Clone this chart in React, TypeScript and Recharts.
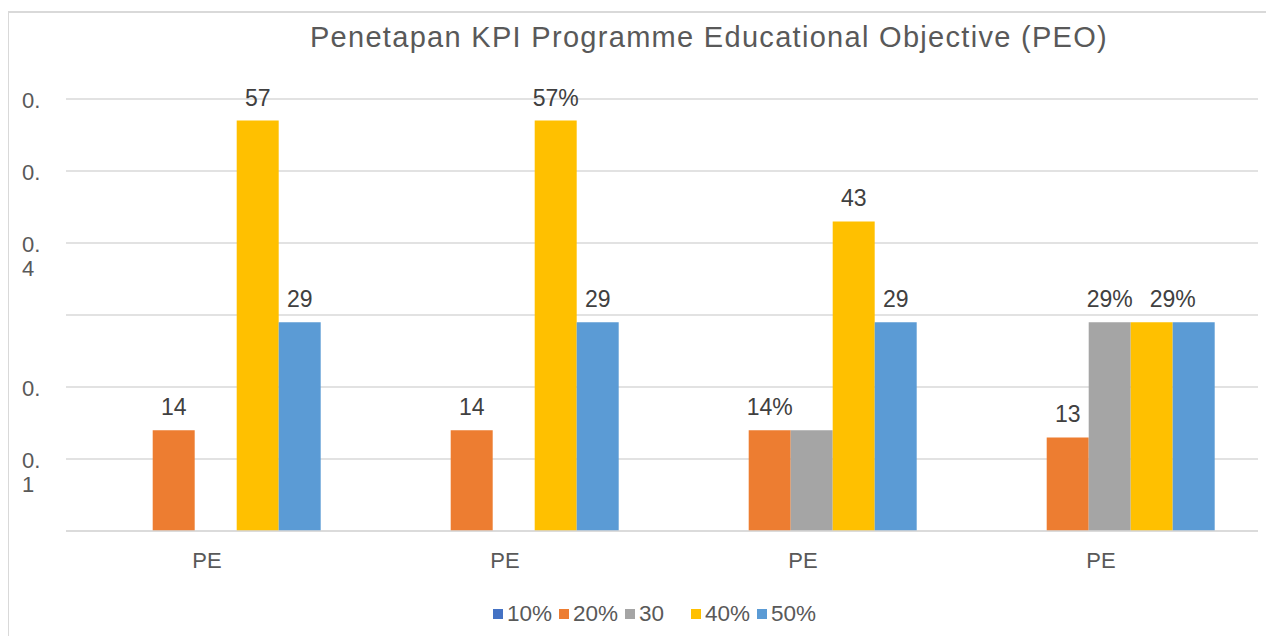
import { BarChart, Bar, XAxis, YAxis, CartesianGrid, Legend, LabelList } from "recharts"

const categories = ["PE", "PE", "PE", "PE"]
const s10 = [0, 0, 0, 0]
const s20 = [0.14, 0.14, 0.14, 0.13]
const s30 = [0, 0, 0.14, 0.29]
const s40 = [0.57, 0.57, 0.43, 0.29]
const s50 = [0.29, 0.29, 0.29, 0.29]

// data labels as they show in the picture (some are cut short)
const l10 = ["", "", "", ""]
const l20 = ["14", "14", "14%", "13"]
const l30 = ["", "", "", "29%"]
const l40 = ["57", "57%", "43", "29%"]
const l50 = ["29", "29", "29", ""]

const seriesNames = ["10%", "20%", "30", "40%", "50%"]
const seriesColors = ["#4472C4", "#ED7D31", "#A5A5A5", "#FFC000", "#5B9BD5"]

const yTicks = [0, 0.1, 0.2, 0.3, 0.4, 0.5, 0.6]
const yTickLabels = ["", "0.\n1", "0.", "", "0.\n4", "0.", "0."]

const data = categories.map((name, i) => ({
  name,
  v10: s10[i],
  v20: s20[i],
  v30: s30[i],
  v40: s40[i],
  v50: s50[i],
  l10: l10[i],
  l20: l20[i],
  l30: l30[i],
  l40: l40[i],
  l50: l50[i],
}))

const FONT = "'Liberation Sans', Arial, sans-serif"

// the two crowded labels in the last group are pushed apart a bit
const labelShift: Record<string, number> = { "l30-3": 7, "l40-3": 21 }

const makeLabel = (key: string) => (props: any) => {
  const { x, y, width, value, index } = props
  if (!value) return null
  const dx = labelShift[`${key}-${index}`] ?? 0
  return (
    <text x={x + width / 2 + dx} y={y - 15} textAnchor="middle" fontSize={23} fill="#404040" fontFamily={FONT}>
      {value}
    </text>
  )
}

const YTick = (props: any) => {
  const { y, index } = props
  const label = yTickLabels[index] ?? ""
  if (!label) return null
  const lines = label.split("\n")
  return (
    <text x={props.x - 36} y={y + 9} textAnchor="start" fontSize={22} fill="#595959" fontFamily={FONT}>
      {lines.map((ln: string, k: number) => (
        <tspan key={k} x={props.x - 36} dy={k === 0 ? 0 : 23.5}>
          {ln}
        </tspan>
      ))}
    </text>
  )
}

const XTick = (props: any) => {
  const { x, y, payload } = props
  return (
    <text x={x - 8} y={y + 29} textAnchor="middle" fontSize={22} fill="#595959" fontFamily={FONT}>
      {payload.value}
    </text>
  )
}

const LegendContent = (props: any) => {
  const { payload } = props
  return (
    <div style={{ position: "relative", height: 40 }}>
      <div style={{ position: "absolute", left: 493, top: 14, display: "flex" }}>
        {payload.map((entry: any) => (
          <div key={entry.value} style={{ width: 66, display: "flex", alignItems: "center", whiteSpace: "nowrap" }}>
            <span style={{ width: 10, height: 10, background: entry.color, display: "inline-block", marginRight: 4 }} />
            <span style={{ fontSize: 22.5, lineHeight: "24px", color: "#595959", fontFamily: FONT }}>{entry.value}</span>
          </div>
        ))}
      </div>
    </div>
  )
}

export default function App() {
  const keys = ["v10", "v20", "v30", "v40", "v50"]
  const labelKeys = ["l10", "l20", "l30", "l40", "l50"]
  return (
    <div
      style={{
        position: "relative",
        width: 1274,
        height: 644,
        margin: -8,
        overflow: "hidden",
        background: "#fff",
        fontFamily: FONT,
      }}
    >
      <div
        style={{
          position: "absolute",
          left: 709,
          top: 23,
          transform: "translateX(-50%)",
          fontSize: 29,
          letterSpacing: 1.3,
          lineHeight: "28px",
          color: "#595959",
          whiteSpace: "nowrap",
        }}
      >
        Penetapan KPI Programme Educational Objective (PEO)
      </div>
      <div style={{ position: "absolute", left: 0, top: 0 }}>
        <BarChart
          width={1274}
          height={644}
          data={data}
          margin={{ top: 99, right: 16, left: 0, bottom: 16 }}
          barCategoryGap="15%"
          barGap={0}
        >
          <CartesianGrid vertical={false} stroke="#d9d9d9" strokeWidth={1.5} />
          <XAxis
            dataKey="name"
            height={57}
            tick={<XTick />}
            tickLine={false}
            axisLine={{ stroke: "#d9d9d9", strokeWidth: 1.5 }}
          />
          <YAxis
            width={66}
            domain={[0, 0.6]}
            ticks={yTicks}
            tick={<YTick />}
            tickLine={false}
            axisLine={false}
            interval={0}
          />
          <Legend verticalAlign="bottom" content={<LegendContent />} />
          {keys.map((k, i) => (
            <Bar key={k} dataKey={k} name={seriesNames[i]} fill={seriesColors[i]} isAnimationActive={false}>
              <LabelList dataKey={labelKeys[i]} content={makeLabel(labelKeys[i])} />
            </Bar>
          ))}
        </BarChart>
      </div>
      <svg
        width={1274}
        height={644}
        style={{ position: "absolute", left: 0, top: 0, pointerEvents: "none" }}
      >
        <path d="M8 660 V12 H1290" stroke="#d9d9d9" strokeWidth={2} fill="none" />
      </svg>
    </div>
  )
}
